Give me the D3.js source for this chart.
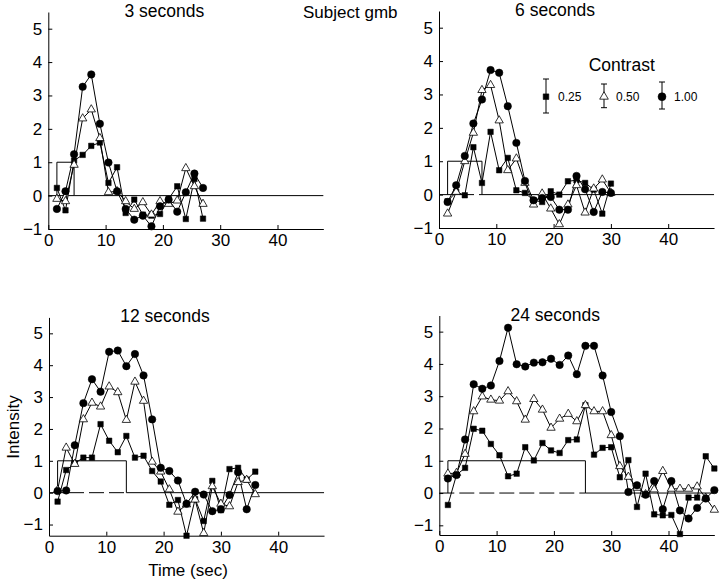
<!DOCTYPE html>
<html>
<head>
<meta charset="utf-8">
<script src="https://cdn.jsdelivr.net/npm/d3@7"></script>
<style>
  html, body { margin: 0; padding: 0; background: #fff; }
  svg { display: block; }
  text { font-family: "Liberation Sans", Arial, Helvetica, sans-serif; fill: #000; }
</style>
</head>
<body>
<svg id="chart" width="720" height="587"></svg>
<script>
// ---- data ----
const timePoints = [1.5, 3, 4.5, 6, 7.5, 9, 10.5, 12, 13.5, 15, 16.5, 18, 19.5, 21, 22.5, 24,
  25.5, 27, 28.5, 30, 31.5, 33, 34.5, 36, 37.5, 39, 40.5, 42, 43.5, 45, 46.5, 48];
const xTicks = [0, 10, 20, 30, 40];
const yTicks = [-1, 0, 1, 2, 3, 4, 5];
const contrastLabels = ["0.25", "0.50", "1.00"];
const panelTitles = ["3 seconds", "6 seconds", "12 seconds", "24 seconds"];
const stimulusDurations = [3, 6, 12, 24];
const stimulusOnset = 1.5;

// 3 seconds
const sq3  = [0.23, -0.44, 1.05, 1.22, 1.49, 1.59, 0.38, 0.85, -0.52, -0.12, -0.57, -0.60, -0.55, -0.10, 0.28, -0.70, 0.50, -0.69];
const tri3 = [-0.10, -0.17, 0.92, 2.31, 2.58, 1.72, 0.10, 0.13, -0.17, -0.40, -0.20, -0.57, -0.17, -0.25, -0.15, 0.82, 0.28, -0.25];
const cir3 = [-0.40, 0.13, 1.24, 3.26, 3.63, 2.15, 0.99, 0.13, -0.40, -0.72, -0.60, -0.92, -0.32, -0.12, -0.48, 0.10, 0.66, 0.23];
// 6 seconds
const sq6  = [-0.20, 0.08, -0.02, 1.42, 0.35, 1.88, 0.73, 1.10, 0.13, 0.05, -0.17, -0.22, 0.10, 0.00, 0.40, 0.43, 0.35, 0.15, -0.57, 0.33];
const tri6 = [-0.57, 0.08, 1.00, 1.85, 3.13, 3.28, 2.22, 0.73, 1.08, 0.35, -0.30, 0.03, -0.42, -0.89, -0.30, 0.28, -0.54, 0.18, 0.45, 0.05];
const cir6 = [-0.22, 0.28, 1.16, 2.13, 2.85, 3.73, 3.65, 2.65, 1.55, 0.41, -0.17, -0.10, -0.07, -0.45, -0.45, 0.56, 0.16, -0.52, 0.08, 0.05];
// 12 seconds
const sq12  = [-0.28, 0.71, 0.92, 1.10, 1.10, 2.15, 1.63, 1.27, 1.78, 1.10, 1.16, 0.68, 0.35, -0.38, -0.23, -1.35, -0.20, -0.89, 0.37, -0.55, 0.74, 0.78, 0.41, 0.66];
const tri12 = [0.08, 1.41, 0.90, 2.30, 2.82, 2.70, 3.33, 3.15, 2.28, 3.48, 2.88, 0.97, 0.66, 0.10, -0.60, -0.37, -0.22, -1.27, 0.20, -0.35, -0.43, 0.33, 0.40, -0.05];
const cir12 = [0.05, 0.07, 1.49, 2.81, 3.56, 3.17, 4.42, 4.46, 3.97, 4.35, 3.68, 2.30, 0.78, 0.68, 0.38, -0.35, 0.03, -0.06, -0.58, -0.52, -0.07, 0.64, -0.52, 0.24];
// 24 seconds
const sq24  = [-0.37, 0.56, 0.78, 1.99, 1.93, 1.52, 1.17, 0.52, 0.60, 1.42, 1.01, 1.55, 1.32, 1.24, 1.64, 1.66, 2.72, 1.19, 1.40, 1.42, 0.49, 1.02, -0.43, 0.60, -0.66, -0.69, -0.68, -1.27, -0.14, -0.14, 1.14, 0.76];
const tri24 = [0.60, 0.62, 1.21, 2.53, 2.99, 2.89, 2.86, 3.15, 2.84, 2.27, 2.91, 2.58, 2.02, 2.30, 2.45, 2.22, 2.72, 2.53, 2.53, 1.79, 0.83, 0.50, 0.16, -0.04, 0.11, 0.68, 0.13, 0.13, 0.13, 0.20, -0.15, -0.52];
const cir24 = [0.45, 0.56, 1.66, 3.37, 3.23, 3.33, 4.09, 5.12, 3.99, 3.92, 4.04, 4.05, 4.16, 3.97, 4.26, 3.68, 4.56, 4.56, 3.64, 2.51, 1.76, 0.03, 0.24, -0.05, 0.37, -0.50, 0.37, -0.54, -0.79, -0.46, -0.17, 0.09];

const seriesByPanel = [
  [sq3, tri3, cir3],
  [sq6, tri6, cir6],
  [sq12, tri12, cir12],
  [sq24, tri24, cir24]
];

// ---- layout (pixels) ----
const panels = [
  { left: 48.3, top: 12,    bottom: 229,   yMin: -1,   yMax: 5.5 },
  { left: 439,  top: 11,    bottom: 228,   yMin: -1,   yMax: 5.5 },
  { left: 49,   top: 317.4, bottom: 535.7, yMin: -1.35, yMax: 5.5 },
  { left: 439.3, top: 315.5, bottom: 535,  yMin: -1.3, yMax: 5.5 }
];
const xMax = 48;
const xPxPerUnit = 5.73;

const svg = d3.select("#chart");
const symbolTypes = [d3.symbolSquare, d3.symbolTriangle, d3.symbolCircle];
const symbolSizes = [30, 30, 44];
const symbolFills = ["#000", "#fff", "#000"];

panels.forEach((p, i) => {
  const x = d3.scaleLinear().domain([0, xMax]).range([p.left, p.left + xMax * xPxPerUnit]);
  const y = d3.scaleLinear().domain([p.yMin, p.yMax]).range([p.bottom, p.top]);
  const g = svg.append("g");

  // axes
  const yAxis = d3.axisLeft(y).tickValues(yTicks).tickSizeInner(-4).tickSizeOuter(0).tickPadding(6)
    .tickFormat(d => d < 0 ? "\u2212" + Math.abs(d) : d);
  const ya = g.append("g").attr("transform", `translate(${p.left},0)`).call(yAxis);
  const xAxis = d3.axisBottom(x).tickValues(xTicks).tickSizeInner(-4).tickSizeOuter(0).tickPadding(5);
  const xa = g.append("g").attr("transform", `translate(0,${p.bottom})`).call(xAxis);
  [ya, xa].forEach(a => {
    a.selectAll("text").attr("font-size", 17).attr("font-family", '"Liberation Sans", Arial, sans-serif').attr("fill", "#000");
    a.selectAll("path,line").attr("stroke", "#000").attr("stroke-width", 1);
  });

  // baseline: dashed under stimulus, solid afterwards
  const stimEnd = stimulusOnset + stimulusDurations[i];
  g.append("line").attr("x1", x(0)).attr("x2", x(stimEnd)).attr("y1", y(0)).attr("y2", y(0))
    .attr("stroke", "#000").attr("stroke-width", 1).attr("stroke-dasharray", "15,5");
  g.append("line").attr("x1", x(stimEnd)).attr("x2", x(xMax)).attr("y1", y(0)).attr("y2", y(0))
    .attr("stroke", "#000").attr("stroke-width", 1);
  // stimulus box
  g.append("path")
    .attr("d", `M${x(stimulusOnset)},${y(0)}V${y(1)}H${x(stimEnd)}V${y(0)}`)
    .attr("fill", "none").attr("stroke", "#000").attr("stroke-width", 1);

  // title
  g.append("text").attr("x", p.left + 116).attr("y", p.top + 5).attr("text-anchor", "middle")
    .attr("font-size", 17.5).text(panelTitles[i]);

  const series = seriesByPanel[i];
  const line = d3.line().x((d, k) => x(timePoints[k])).y(d => y(d));
  series.forEach(vals => {
    g.append("path").datum(vals).attr("d", line).attr("fill", "none")
      .attr("stroke", "#000").attr("stroke-width", 1);
  });
  series.forEach((vals, s) => {
    const sym = d3.symbol().type(symbolTypes[s]).size(symbolSizes[s]);
    g.selectAll(null).data(vals).enter().append("path")
      .attr("d", sym)
      .attr("transform", (d, k) => `translate(${x(timePoints[k])},${y(d)})`)
      .attr("fill", symbolFills[s]).attr("stroke", "#000").attr("stroke-width", s === 1 ? 0.8 : 0.5);
  });

  if (i === 1) {
    // legend
    g.append("text").attr("x", 621.7).attr("y", 71).attr("text-anchor", "middle")
      .attr("font-size", 17.5).text("Contrast");
    const legX = [546, 604, 662];
    const barTop = [79, 84, 82];
    const barBot = [113, 107.7, 109];
    contrastLabels.forEach((lab, s) => {
      g.append("path")
        .attr("d", `M${legX[s]},${barTop[s]}V${barBot[s]}M${legX[s]-3},${barTop[s]}H${legX[s]+3}M${legX[s]-3},${barBot[s]}H${legX[s]+3}`)
        .attr("stroke", "#000").attr("stroke-width", 1).attr("fill", "none");
      g.append("path").attr("d", d3.symbol().type(symbolTypes[s]).size(s === 2 ? 50 : 32)())
        .attr("transform", `translate(${legX[s]},96.7)`)
        .attr("fill", symbolFills[s]).attr("stroke", "#000").attr("stroke-width", s === 1 ? 0.8 : 0.5);
      g.append("text").attr("x", legX[s] + 12).attr("y", 101).attr("font-size", 12).text(lab);
    });
  }
});

svg.append("text").attr("x", 303).attr("y", 18).attr("font-size", 17).text("Subject gmb");
svg.append("text").attr("transform", "translate(19,427) rotate(-90)").attr("text-anchor", "middle")
  .attr("font-size", 17).text("Intensity");
svg.append("text").attr("x", 188).attr("y", 576).attr("text-anchor", "middle")
  .attr("font-size", 17).text("Time (sec)");
</script>
</body>
</html>
